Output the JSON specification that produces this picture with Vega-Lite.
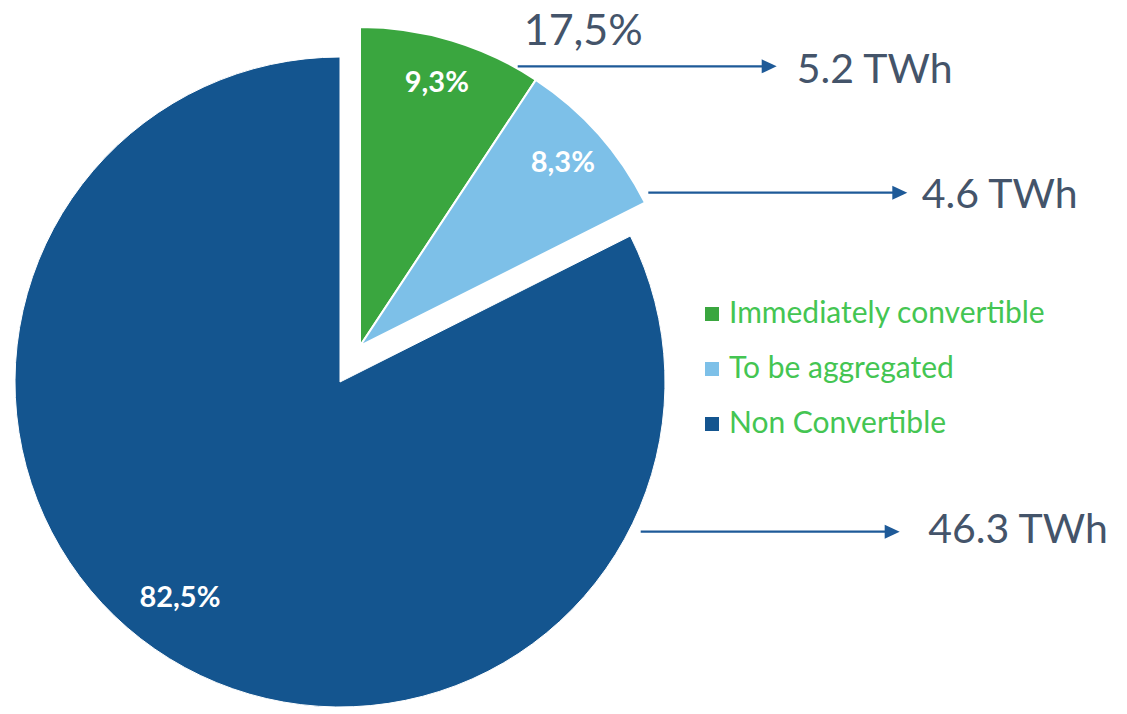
{
  "$schema": "https://vega.github.io/schema/vega-lite/v6.json",
  "width": 650,
  "height": 650,
  "autosize": {"type": "none"},
  "padding": {"left": 15, "top": 57, "right": 462, "bottom": 7},
  "background": "white",
  "config": {"view": {"stroke": null}, "font": "Lato"},
  "data": {
    "values": [
      {"category": "Immediately convertible", "rank": 1, "pct": 9.3, "pctLabel": "9,3%", "twh": 5.2, "twhLabel": "5.2 TWh", "groupLabel": "17,5%"},
      {"category": "To be aggregated", "rank": 2, "pct": 8.3, "pctLabel": "8,3%", "twh": 4.6, "twhLabel": "4.6 TWh", "groupLabel": ""},
      {"category": "Non Convertible", "rank": 3, "pct": 82.5, "pctLabel": "82,5%", "twh": 46.3, "twhLabel": "46.3 TWh", "groupLabel": ""}
    ]
  },
  "layer": [
    {
      "transform": [
        {"stack": "pct", "groupby": [], "sort": [{"field": "rank", "order": "ascending"}], "as": ["t0", "t1"]},
        {"filter": "datum.rank === 3"}
      ],
      "mark": {"type": "arc", "outerRadius": 325, "stroke": "white", "strokeWidth": 1},
      "encoding": {
        "theta": {"field": "t0", "type": "quantitative", "scale": {"domain": [0, 100.1]}},
        "theta2": {"field": "t1"},
        "color": {
          "field": "category", "type": "nominal",
          "scale": {"domain": ["Immediately convertible", "To be aggregated", "Non Convertible"], "range": ["#3AA63F", "#7DC0E8", "#14558F"]},
          "legend": {
            "orient": "none", "legendX": 682, "legendY": 242, "title": null,
            "symbolType": "square", "symbolSize": 196, "symbolStrokeWidth": 0,
            "labelFont": "Lato", "labelFontSize": 30, "labelColor": "#44C552",
            "labelOffset": 2, "rowPadding": 25, "padding": 0, "labelLimit": 600
          }
        }
      }
    },
    {
      "transform": [
        {"stack": "pct", "groupby": [], "sort": [{"field": "rank", "order": "ascending"}], "as": ["t0", "t1"]},
        {"filter": "datum.rank < 3"}
      ],
      "mark": {"type": "arc", "outerRadius": 319, "stroke": "white", "strokeWidth": 2, "xOffset": 20, "yOffset": -36},
      "encoding": {
        "theta": {"field": "t0", "type": "quantitative"},
        "theta2": {"field": "t1"},
        "color": {"field": "category", "type": "nominal"}
      }
    },
    {
      "mark": {"type": "text", "radius": 274, "xOffset": 18, "yOffset": -37, "font": "Lato", "fontWeight": "bold", "fontSize": 29, "fill": "white"},
      "encoding": {
        "theta": {"field": "pct", "type": "quantitative", "stack": true},
        "order": {"field": "rank", "type": "quantitative"},
        "text": {"condition": {"test": "datum.rank < 3", "field": "pctLabel", "type": "nominal"}, "value": ""}
      }
    },
    {
      "mark": {"type": "text", "radius": 267, "dx": -20, "dy": -11, "font": "Lato", "fontWeight": "bold", "fontSize": 29, "fill": "white"},
      "encoding": {
        "theta": {"field": "pct", "type": "quantitative", "stack": true},
        "order": {"field": "rank", "type": "quantitative"},
        "text": {"condition": {"test": "datum.rank === 3", "field": "pctLabel", "type": "nominal"}, "value": ""}
      }
    },
    {
      "encoding": {
        "x": {"field": "rank", "type": "quantitative", "axis": null, "scale": {"domain": [1, 2, 3], "range": [502.7, 633.3, 625.7], "nice": false, "zero": false}},
        "y": {"field": "rank", "type": "quantitative", "axis": null, "scale": {"domain": [1, 2, 3], "range": [9.3, 135.7, 474.7], "nice": false, "zero": false}}
      },
      "layer": [
        {
          "mark": {"type": "rule", "x2Offset": 250, "strokeWidth": 2.2, "color": "#1E5A98"},
          "encoding": {"x2": {"field": "rank"}}
        },
        {
          "mark": {"type": "point", "shape": "M-1,-0.93L1,0L-1,0.93Z", "size": 225, "filled": true, "opacity": 1, "color": "#1E5A98", "xOffset": 251.5}
        },
        {
          "transform": [{"filter": "datum.rank === 1"}],
          "mark": {"type": "text", "align": "left", "baseline": "alphabetic", "font": "Lato", "fontSize": 43, "fill": "#44546A", "xOffset": 6, "yOffset": -21.3},
          "encoding": {"text": {"field": "groupLabel", "type": "nominal"}}
        }
      ]
    },
    {
      "mark": {"type": "text", "align": "left", "baseline": "alphabetic", "font": "Lato", "fontSize": 41, "fill": "#44546A"},
      "encoding": {
        "x": {"field": "rank", "type": "quantitative", "axis": null, "scale": {"domain": [1, 2, 3], "range": [781.7, 906.7, 913.3], "nice": false, "zero": false}},
        "y": {"field": "rank", "type": "quantitative", "axis": null, "scale": {"domain": [1, 2, 3], "range": [26.3, 151.3, 486.3], "nice": false, "zero": false}},
        "text": {"field": "twhLabel", "type": "nominal"}
      }
    }
  ],
  "resolve": {"scale": {"x": "independent", "y": "independent"}}
}
